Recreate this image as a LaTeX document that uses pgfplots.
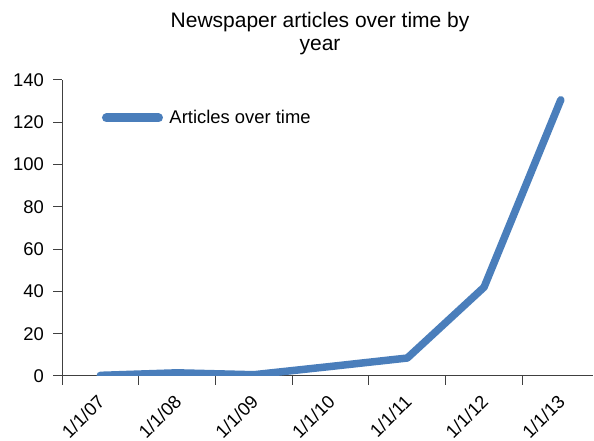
\documentclass[border=0pt]{standalone}
\usepackage{fontspec}
\setmainfont{Liberation Sans}
\usepackage{pgfplots}
\pgfplotsset{compat=1.18}
\definecolor{linblue}{HTML}{4A7EBB}
\definecolor{axgray}{HTML}{404040}
\begin{document}
\begin{tikzpicture}[x=1bp,y=1bp]
\path[use as bounding box] (0,0) rectangle (594,441);
\begin{axis}[
  at={(62bp,65bp)}, anchor=south west,
  scale only axis, width=531bp, height=296bp,
  xmin=-0.5, xmax=6.42, ymin=0, ymax=140,
  axis lines*=left,
  axis line style={axgray, line width=1bp},
  every tick/.style={axgray, line width=1bp},
  tick align=outside,
  xtick={0,...,6},
  xticklabels={1/1/07,1/1/08,1/1/09,1/1/10,1/1/11,1/1/12,1/1/13},
  major x tick style={draw=none},
  minor xtick={-0.5,0.5,1.5,2.5,3.5,4.5,5.5},
  minor tick length=9bp,
  major tick length=9bp,
  ytick={0,20,...,140},
  font=\fontsize{18.4bp}{22bp}\selectfont,
  ticklabel style={font=\fontsize{18.4bp}{22bp}\selectfont},
  /pgf/number format/assume math mode=true,
  xticklabel style={xshift=-4bp, yshift=-8.5bp, rotate=45, anchor=north east, inner sep=0pt},
  yticklabel style={inner sep=0pt, xshift=-9bp},
  title={Newspaper articles over time by\\year},
  title style={font=\fontsize{21bp}{23bp}\selectfont, align=center, at={(axis description cs:0.486,1.21)}, anchor=north, inner sep=0pt},
  legend style={draw=none, fill=none, inner sep=0pt, outer sep=0pt,
    at={(axis description cs:0.0753,0.8716)}, anchor=west,
    nodes={inner sep=0pt, font=\fontsize{18.4bp}{22bp}\selectfont}},
  legend image code/.code={
    \path[draw=none] (0bp,0bp) -- (63bp,0bp);
    \draw[linblue, line width=9bp, line cap=round] (0bp,0bp) -- (52bp,0bp);
  },
]
\addplot[linblue, line width=7.5bp, line join=round, line cap=round] coordinates {
  (0,0.3) (1,1.5) (2,0.6) (3,4.5) (4,8.5) (5,42) (6,130.6)
};
\addlegendentry{Articles over time}
\end{axis}
\end{tikzpicture}
\end{document}
